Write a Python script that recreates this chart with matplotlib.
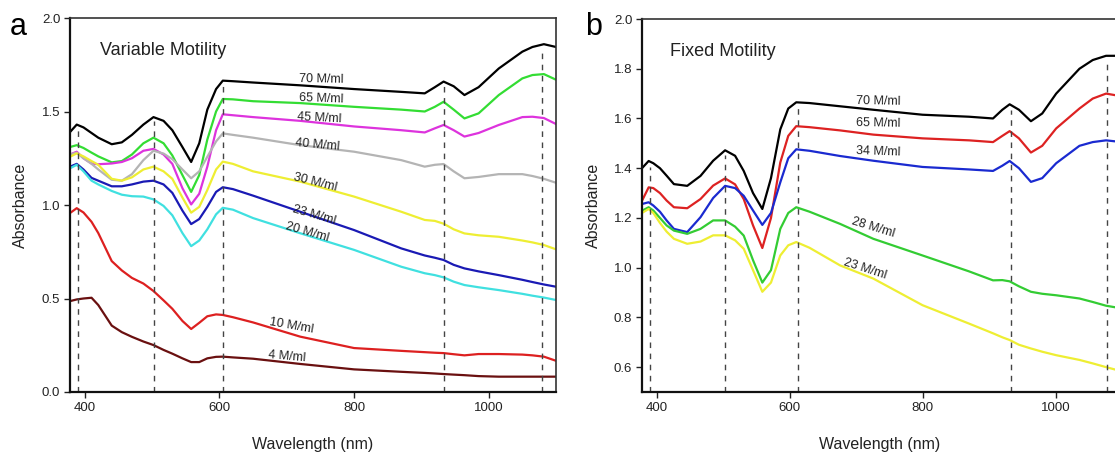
import numpy as np
import matplotlib
matplotlib.use("Agg")
import matplotlib.pyplot as plt

plt.rcParams['font.family'] = ['Liberation Sans', 'DejaVu Sans']

# ---- panel a : variable motility ----
wl_a = [378, 388, 398, 410, 420, 440, 455, 470, 487, 502, 517, 530, 545, 558, 570,
        582, 595, 605, 620, 650, 720, 800, 870, 905, 920, 933, 948, 964, 985, 1015,
        1050, 1065, 1082, 1100]
a_70 = [1.39, 1.43, 1.415, 1.385, 1.36, 1.325, 1.335, 1.375, 1.43, 1.47, 1.45, 1.40,
        1.31, 1.23, 1.33, 1.51, 1.62, 1.665, 1.662, 1.655, 1.64, 1.62, 1.605, 1.597,
        1.63, 1.66, 1.635, 1.588, 1.63, 1.73, 1.82, 1.845, 1.86, 1.845]
a_65 = [1.31, 1.32, 1.305, 1.28, 1.26, 1.228, 1.235, 1.27, 1.33, 1.36, 1.33, 1.265,
        1.16, 1.07, 1.16, 1.35, 1.50, 1.567, 1.565, 1.555, 1.545, 1.525, 1.51, 1.50,
        1.525, 1.552, 1.51, 1.463, 1.49, 1.588, 1.677, 1.695, 1.70, 1.67]
a_45 = [1.27, 1.285, 1.25, 1.222, 1.218, 1.222, 1.23, 1.25, 1.29, 1.30, 1.27, 1.22,
        1.09, 1.003, 1.06, 1.205, 1.40, 1.485, 1.48, 1.47, 1.45, 1.42, 1.40, 1.388,
        1.41, 1.428, 1.40, 1.366, 1.385, 1.428, 1.47, 1.472, 1.465, 1.433]
a_40 = [1.27, 1.28, 1.25, 1.22, 1.19, 1.135, 1.13, 1.165, 1.24, 1.29, 1.275, 1.245,
        1.19, 1.143, 1.18, 1.258, 1.34, 1.383, 1.375, 1.36, 1.32, 1.285, 1.24, 1.205,
        1.215, 1.219, 1.18, 1.143, 1.15, 1.165, 1.165, 1.155, 1.14, 1.119]
a_30 = [1.258, 1.276, 1.26, 1.235, 1.215, 1.14, 1.13, 1.148, 1.19, 1.205, 1.18, 1.14,
        1.04, 0.959, 0.99, 1.08, 1.19, 1.232, 1.22, 1.18, 1.125, 1.045, 0.964, 0.92,
        0.915, 0.90, 0.87, 0.848, 0.838, 0.83, 0.81, 0.80, 0.786, 0.763]
a_23 = [1.205, 1.22, 1.19, 1.145, 1.13, 1.10, 1.10, 1.11, 1.125, 1.13, 1.11, 1.065,
        0.97, 0.898, 0.925, 0.99, 1.07, 1.095, 1.085, 1.05, 0.964, 0.866, 0.768, 0.73,
        0.718, 0.706, 0.68, 0.661, 0.645, 0.625, 0.60, 0.588, 0.575, 0.563]
a_20 = [1.196, 1.215, 1.18, 1.13, 1.11, 1.075, 1.055, 1.047, 1.045, 1.03, 0.995, 0.945,
        0.85, 0.78, 0.81, 0.87, 0.95, 0.985, 0.975, 0.93, 0.849, 0.76, 0.67, 0.635,
        0.625, 0.613, 0.59, 0.572, 0.56, 0.545, 0.525, 0.515, 0.505, 0.492]
a_10 = [0.957, 0.983, 0.96, 0.91, 0.85, 0.70, 0.65, 0.61, 0.58, 0.54, 0.49, 0.445,
        0.38, 0.337, 0.37, 0.405, 0.415, 0.412, 0.40, 0.372, 0.296, 0.235, 0.22, 0.213,
        0.21, 0.208, 0.202, 0.196, 0.203, 0.203, 0.20, 0.196, 0.189, 0.167]
a_4 = [0.486, 0.495, 0.50, 0.504, 0.465, 0.355, 0.32, 0.295, 0.27, 0.251, 0.225, 0.205,
       0.18, 0.16, 0.16, 0.18, 0.188, 0.189, 0.185, 0.178, 0.15, 0.121, 0.108, 0.102,
       0.099, 0.096, 0.093, 0.09, 0.085, 0.082, 0.082, 0.082, 0.082, 0.082]

series_a = [a_70, a_65, a_45, a_40, a_30, a_23, a_20, a_10, a_4]
colors_a = ['#000000', '#33dd33', '#dd33dd', '#b4b4b4', '#eeee33', '#1a1ab4',
            '#40e0e0', '#dd2020', '#6a1010']
names_a = ['70 M/ml', '65 M/ml', '45 M/ml', '40 M/ml', '30 M/ml', '23 M/ml',
           '20 M/ml', '10 M/ml', '4 M/ml']
lab_a = [(751, 1.674, -1), (751, 1.567, -2), (748, 1.465, -3), (746, 1.32, -5),
         (743, 1.118, -14), (740, 0.947, -16), (731, 0.856, -16), (707, 0.353, -10),
         (701, 0.187, -5)]
peaks_a = [390, 503, 605, 933, 1079]

# ---- panel b : fixed motility ----
wl_b = [378, 388, 395, 405, 415, 426, 446, 466, 485, 503, 518, 531, 545, 559, 572,
        586, 598, 610, 630, 676, 726, 800, 870, 906, 920, 931, 945, 963, 980, 1001,
        1036, 1056, 1076, 1100]
b_70 = [1.40, 1.429, 1.42, 1.40, 1.37, 1.336, 1.329, 1.369, 1.43, 1.472, 1.45, 1.389,
        1.30, 1.236, 1.36, 1.556, 1.64, 1.665, 1.662, 1.649, 1.635, 1.615, 1.607, 1.60,
        1.635, 1.657, 1.635, 1.589, 1.62, 1.70, 1.80, 1.835, 1.852, 1.852]
b_65 = [1.269, 1.323, 1.32, 1.30, 1.27, 1.243, 1.239, 1.276, 1.33, 1.359, 1.335, 1.276,
        1.17, 1.079, 1.20, 1.423, 1.53, 1.569, 1.565, 1.552, 1.535, 1.52, 1.512, 1.505,
        1.53, 1.549, 1.52, 1.463, 1.49, 1.56, 1.64, 1.68, 1.70, 1.689]
b_34 = [1.256, 1.263, 1.25, 1.225, 1.19, 1.156, 1.143, 1.203, 1.28, 1.329, 1.32, 1.289,
        1.23, 1.172, 1.22, 1.343, 1.44, 1.476, 1.47, 1.449, 1.43, 1.405, 1.395, 1.389,
        1.41, 1.429, 1.40, 1.345, 1.36, 1.42, 1.49, 1.505, 1.512, 1.505]
b_28 = [1.229, 1.243, 1.23, 1.20, 1.17, 1.149, 1.136, 1.156, 1.19, 1.19, 1.165, 1.129,
        1.03, 0.94, 0.99, 1.156, 1.22, 1.243, 1.225, 1.176, 1.116, 1.049, 0.985, 0.949,
        0.95, 0.945, 0.925, 0.903, 0.895, 0.889, 0.876, 0.862, 0.847, 0.836]
b_23 = [1.22, 1.236, 1.22, 1.18, 1.145, 1.116, 1.096, 1.105, 1.13, 1.13, 1.11, 1.076,
        0.99, 0.903, 0.94, 1.049, 1.09, 1.103, 1.08, 1.009, 0.956, 0.849, 0.775, 0.736,
        0.72, 0.709, 0.69, 0.675, 0.662, 0.648, 0.629, 0.615, 0.60, 0.583]

series_b = [b_70, b_65, b_34, b_28, b_23]
colors_b = ['#000000', '#dd2222', '#1a2ad0', '#33cc33', '#eeee33']
names_b = ['70 M/ml', '65 M/ml', '34 M/ml', '28 M/ml', '23 M/ml']
lab_b = [(733, 1.668, -1), (733, 1.58, -1), (733, 1.468, -2), (725, 1.16, -17),
         (713, 0.996, -18)]
peaks_b = [390, 503, 612, 933, 1077]


def style_axes(ax):
    for s in ['left', 'bottom']:
        ax.spines[s].set_linewidth(1.6)
        ax.spines[s].set_color('#111111')
    for s in ['top', 'right']:
        ax.spines[s].set_linewidth(1.2)
        ax.spines[s].set_color('#333333')
    ax.tick_params(direction='out', length=4, width=1, labelsize=9.5,
                   colors='#222222', pad=3)


def draw_panel(ax, wl, series, colors, names, labels, peaks, top_curve, ylim):
    for ys, c in zip(series, colors):
        ax.plot(wl, ys, color=c, lw=1.6, solid_joinstyle='round')
    # dashed markers from the axis up to just under the top curve
    tops = np.interp(peaks, wl, top_curve) - 0.02
    ax.vlines(peaks, ylim[0], tops, colors='#444444', linestyles=(0, (4, 4)), lw=1)
    for n, (x, y, r) in zip(names, labels):
        ax.text(x, y, n, fontsize=9, rotation=r, ha='center', va='center',
                color='#222222', rotation_mode='anchor')
    ax.set_xlim(378, 1100)
    ax.set_ylim(*ylim)
    ax.set_xticks([400, 600, 800, 1000])
    style_axes(ax)


fig = plt.figure(figsize=(11.15, 4.54), dpi=100)

ax1 = fig.add_axes([70 / 1115, 1 - 392 / 454, 486 / 1115, 374 / 454])
draw_panel(ax1, wl_a, series_a, colors_a, names_a, lab_a, peaks_a, a_70, (0.0, 2.0))
ax1.set_yticks([0.0, 0.5, 1.0, 1.5, 2.0])
ax1.text(0.062, 0.914, 'Variable Motility', transform=ax1.transAxes,
         fontsize=13, va='center', ha='left', color='#222222')

ax2 = fig.add_axes([642 / 1115, 1 - 392 / 454, 480 / 1115, 373 / 454])
draw_panel(ax2, wl_b, series_b, colors_b, names_b, lab_b, peaks_b, b_70, (0.5, 2.0))
ax2.set_yticks([0.6, 0.8, 1.0, 1.2, 1.4, 1.6, 1.8, 2.0])
ax2.text(0.058, 0.914, 'Fixed Motility', transform=ax2.transAxes,
         fontsize=13, va='center', ha='left', color='#222222')

# panel letters and axis titles
fig.text(10 / 1115, 1 - 35 / 454, 'a', fontsize=22, ha='left', va='baseline')
fig.text(585 / 1115, 1 - 35 / 454, 'b', fontsize=22, ha='left', va='baseline')
fig.text(20 / 1115, 1 - 205 / 454, 'Absorbance', rotation=90, fontsize=11.5,
         ha='center', va='center', color='#222222')
fig.text(593 / 1115, 1 - 205 / 454, 'Absorbance', rotation=90, fontsize=11.5,
         ha='center', va='center', color='#222222')
fig.text(313 / 1115, 1 - 445 / 454, 'Wavelength (nm)', fontsize=11.5,
         ha='center', va='center', color='#222222')
fig.text(880 / 1115, 1 - 445 / 454, 'Wavelength (nm)', fontsize=11.5,
         ha='center', va='center', color='#222222')

fig.savefig('out.png', dpi=100)
